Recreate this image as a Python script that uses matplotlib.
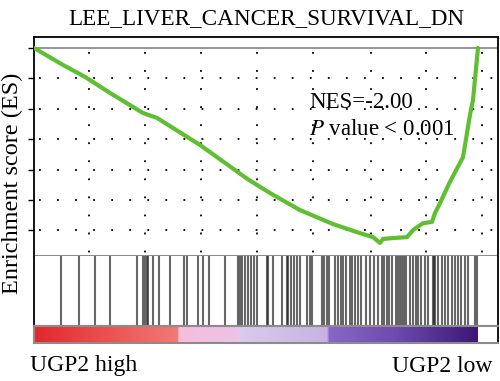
import numpy as np
import matplotlib
matplotlib.use("Agg")
import matplotlib.pyplot as plt
from matplotlib.colors import LinearSegmentedColormap

# rang des genes (0 .. n_genes)
n_genes = 444
x_max = 464

# courbe ES (rang, score)
es_rank = [0, 29, 51, 76, 109, 123, 166, 214, 236, 266, 299, 326, 339, 346, 349,
           359, 373, 379, 389, 398, 401, 406, 416, 429, 436, 439, 444]
es_val = [0.0, -0.056, -0.095, -0.148, -0.214, -0.230, -0.319, -0.432, -0.477,
          -0.533, -0.579, -0.609, -0.622, -0.641, -0.628, -0.625, -0.622, -0.599,
          -0.576, -0.572, -0.543, -0.510, -0.440, -0.359, -0.220, -0.171, 0.0]

# positions des genes du set (hits)
hits = [27, 45, 61, 76, 103, 109, 111, 113, 114, 119, 125, 136, 150, 153, 164,
        169, 175, 191, 204, 206, 208, 211, 214, 217, 220, 223, 233, 234, 239, 248,
        253, 254, 257, 260, 263, 266, 273, 276, 278, 288, 290, 293, 295, 301, 304,
        307, 309, 312, 316, 318, 321, 324, 327, 332, 336, 340, 344, 348, 350, 353,
        355, 358, 362, 364, 366, 368, 370, 372, 376, 379, 382, 384, 387, 391, 394,
        399, 400, 401, 404, 408, 411, 414, 418, 421, 424, 427, 431, 434, 441, 443]

es_ticks = [0, -0.1, -0.2, -0.3, -0.4, -0.5, -0.6]
grid_x = [55, 111, 167, 223, 279, 337, 392, 448]

title = "LEE_LIVER_CANCER_SURVIVAL_DN"
label_high = "UGP2 high"
label_low = "UGP2 low"

plt.rcParams['font.family'] = ['Liberation Serif', 'DejaVu Serif']
plt.rcParams['mathtext.fontset'] = 'stix'

fig = plt.figure(figsize=(5.0, 3.81), dpi=100)
W, H = 500.0, 381.0
left, right = 34 / W, 498 / W
def fy(px):
    return 1 - px / H

ax = fig.add_axes([left, fy(256), right - left, fy(37) - fy(256)])
ax2 = fig.add_axes([left, fy(326), right - left, fy(256) - fy(326)])
ax3 = fig.add_axes([left, fy(343), right - left, fy(326) - fy(343)])

# panneau ES
ax.set_xlim(0, x_max)
ax.set_ylim(-0.684, 0.036)
for y in es_ticks[1:]:
    ax.plot([5, x_max], [y, y], color='k', lw=1.3, dashes=(1, 9.0), zorder=1)
for x in grid_x:
    ax.plot([x, x], [-0.013, -0.684], color='k', lw=1.3, dashes=(1, 9.0), zorder=1)
ax.axhline(0, color='0.55', lw=1.3, zorder=2)
ax.plot(es_rank, es_val, color='#5fbf30', lw=3.0, solid_capstyle='round', zorder=3)
ax.set_xticks([])
ax.set_yticks(es_ticks)
ax.set_yticklabels([])
ax.tick_params(axis='y', direction='out', length=4.5, width=1.0)
for s in ['left', 'top', 'right']:
    ax.spines[s].set_color('k')
    ax.spines[s].set_linewidth(1.3)
ax.spines['bottom'].set_color('0.55')
ax.spines['bottom'].set_linewidth(1.5)
ax.set_title(title, fontsize=16.7, pad=9)
ax.set_ylabel("Enrichment score (ES)", fontsize=17.5)
ax.yaxis.set_label_coords(-0.024, 0.33)

ax.text(275, -0.197, "NES=-2.00", fontsize=16.5, va='baseline')
ax.text(275, -0.286, r"$\it{P}$ value < 0.001", fontsize=16.5, va='baseline')

# panneau des hits
ax2.set_xlim(0, x_max)
ax2.set_ylim(0, 1)
ax2.vlines(hits, 0, 1, color='0.15', alpha=0.7, lw=1.5)
ax2.set_xticks([])
ax2.set_yticks([])
for s in ['left', 'right']:
    ax2.spines[s].set_color('k')
    ax2.spines[s].set_linewidth(1.3)
ax2.spines['top'].set_visible(False)
ax2.spines['bottom'].set_color('0.55')
ax2.spines['bottom'].set_linewidth(1.5)

# barre de couleur (liste classee)
stops = [(0.0, '#e3282c'), (143 / n_genes, '#f27a74'), (144 / n_genes, '#f5bedd'),
         (203 / n_genes, '#edc2e4'), (204 / n_genes, '#dccbec'), (294 / n_genes, '#c7b2e2'),
         (295 / n_genes, '#8768c6'), (360 / n_genes, '#6e4cb0'), (1.0, '#3c1775')]
cmap = LinearSegmentedColormap.from_list('rank', stops)
grad = np.linspace(0, 1, 600).reshape(1, -1)
ax3.imshow(grad, aspect='auto', cmap=cmap, extent=[0, n_genes, 0, 1])
ax3.set_xlim(0, x_max)
ax3.set_ylim(0, 1)
ax3.set_xticks([])
ax3.set_yticks([])
for s in ['left', 'top', 'bottom']:
    ax3.spines[s].set_color('0.55')
    ax3.spines[s].set_linewidth(1.5)
ax3.spines['right'].set_color('k')
ax3.spines['right'].set_linewidth(1.3)

fig.text(30 / W, fy(366), label_high, fontsize=17, va='center', ha='left')
fig.text(492 / W, fy(366), label_low, fontsize=17, va='center', ha='right')

fig.savefig('out.png', dpi=100)
